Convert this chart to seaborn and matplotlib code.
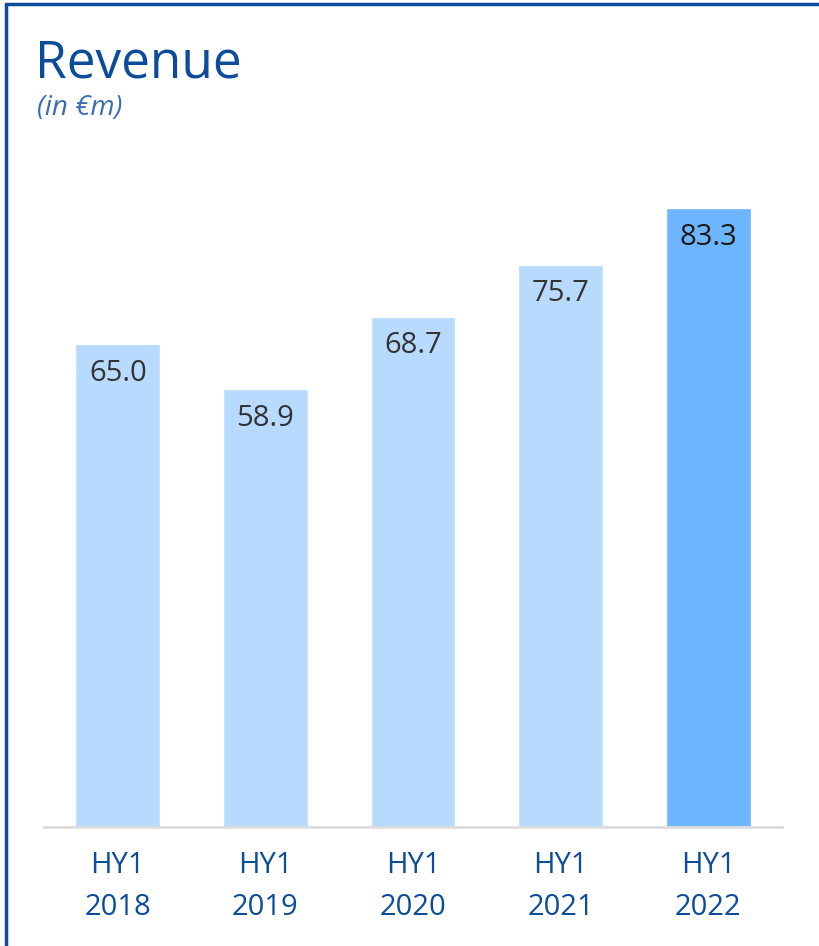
import matplotlib
matplotlib.use("Agg")
import matplotlib.pyplot as plt
import pandas as pd
import seaborn as sns
from matplotlib.lines import Line2D

# Data
periods = ["HY1\n2018", "HY1\n2019", "HY1\n2020", "HY1\n2021", "HY1\n2022"]
revenue = [65.0, 58.9, 68.7, 75.7, 83.3]

df = pd.DataFrame({"period": periods, "revenue": revenue})

sns.set_style("white")
plt.rcParams["font.family"] = ["Open Sans", "DejaVu Sans"]

navy = "#0B4C9B"
light = "#B8DAFF"
strong = "#6DB5FF"
colors = [light] * (len(periods) - 1) + [strong]

fig = plt.figure(figsize=(8.2, 9.46), dpi=100)
ax = fig.add_axes([44 / 820, 119 / 946, 738 / 820, 677 / 946])

sns.barplot(data=df, x="period", y="revenue", hue="period", palette=colors,
            width=0.574, legend=False, ax=ax, saturation=1)

ax.set_xlim(-0.5, 4.5)
ax.set_ylim(0, 677 / 7.43)

# value labels inside the bars
for i, v in enumerate(revenue):
    ax.annotate(f"{v:.1f}", xy=(i, v), xytext=(0, -21), textcoords="offset points",
                ha="center", va="center", fontsize=21,
                color="#1a1a1a" if i == len(revenue) - 1 else "#333333")

for s in ["top", "right", "left"]:
    ax.spines[s].set_visible(False)
ax.spines["bottom"].set_color("#DDDDDD")
ax.spines["bottom"].set_linewidth(2)
ax.set_yticks([])
ax.set_xlabel("")
ax.set_ylabel("")
ax.tick_params(axis="x", length=0, pad=17, labelsize=21, labelcolor=navy)
for t in ax.get_xticklabels():
    t.set_linespacing(1.62)

# title block
fig.text(35 / 820, 1 - 64 / 946, "Revenue", fontsize=37, color=navy,
         ha="left", va="center")
fig.text(37 / 820, 1 - 108 / 946, "(in €m)", fontsize=20, color="#3A6DB5",
         style="italic", ha="left", va="center")

# frame on left and top
fig.add_artist(Line2D([6 / 820, 6 / 820], [0, 1 - 4 / 946], color=navy, lw=2.5,
                      transform=fig.transFigure))
fig.add_artist(Line2D([6 / 820, 1], [1 - 4 / 946, 1 - 4 / 946], color=navy, lw=2.5,
                      transform=fig.transFigure))

fig.savefig("out.png", dpi=100)
